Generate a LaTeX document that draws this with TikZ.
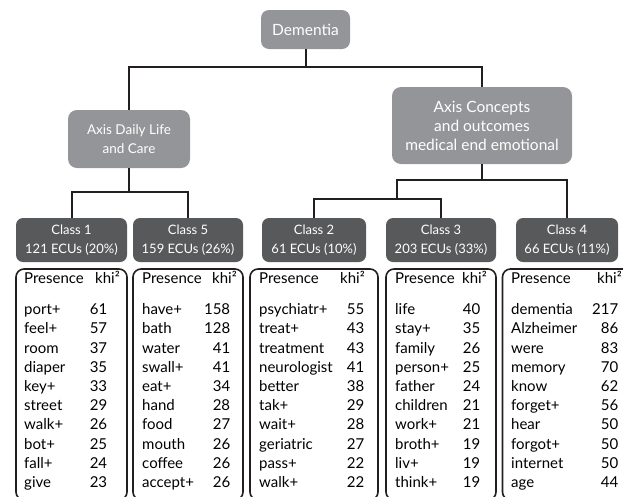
\documentclass[tikz,border=0pt]{standalone}
\usepackage{fontspec}
\setmainfont{Lato}
\usepackage{tikz}
\usepackage{xcolor}
\usetikzlibrary{positioning}
\definecolor{axisgray}{HTML}{939598}
\definecolor{classgray}{HTML}{58595B}
\definecolor{linkblack}{HTML}{231F20}
\newcommand{\kw}[2]{#1\hfill #2}

\begin{document}
\begin{tikzpicture}
[
x=1pt, y=-1pt,
box-root/.style={rectangle, rounded corners=8pt, fill=axisgray, text=white, inner sep=0pt, align=center, font=\fontsize{15.5}{19}\selectfont},
box-axis/.style={rectangle, rounded corners=9pt, fill=axisgray, text=white, inner sep=0pt, align=center, font=\fontsize{13.5}{19.5}\selectfont},
box-class/.style={rectangle, rounded corners=7pt, fill=classgray, text=white, inner sep=0pt, minimum height=44pt, align=center, font=\fontsize{13}{19}\selectfont},
box-table/.style={rectangle, rounded corners=8pt, draw=linkblack, line width=1.6pt, fill=white, minimum height=231pt},
text-head/.style={inner sep=0pt, font=\fontsize{15}{19.2}\selectfont},
text-rows/.style={inner sep=0pt, anchor=north west, align=left, font=\fontsize{15}{19.2}\selectfont},
link/.style={draw=linkblack, line width=2pt}
]
\useasboundingbox (0,0) rectangle (623,496);
\clip (0,0) rectangle (623,496);

% tree
\node (dementia)  [box-root,  minimum width=89pt,  minimum height=39pt] at (305.5,29.5) {Dementia};
\node (axis-care) [box-axis,  minimum width=122pt, minimum height=58pt] at (129,139)    {Axis Daily Life\\and Care};
\node (axis-med)  [box-axis,  minimum width=180pt, minimum height=77pt, font=\fontsize{15.5}{19}\selectfont] at (482,125.5) {Axis Concepts\\and outcomes\\medical end emotional};
\node (class-1)   [box-class, minimum width=111pt] at (71.5,240) {Class 1\\121 ECUs (20\%)};
\node (class-5)   [box-class, minimum width=110pt] at (188,240)  {Class 5\\159 ECUs (26\%)};
\node (class-2)   [box-class, minimum width=104pt] at (314,240)  {Class 2\\61 ECUs (10\%)};
\node (class-3)   [box-class, minimum width=110pt] at (441,240)  {Class 3\\203 ECUs (33\%)};
\node (class-4)   [box-class, minimum width=102pt] at (567,240)  {Class 4\\66 ECUs (11\%)};
\coordinate (split-23) at (397,199);

\draw[link] (dementia.south)  -- ++(0,18) -| (axis-care.north);
\draw[link] (dementia.south)  -- ++(0,18) -| (axis-med.north);
\draw[link] (axis-care.south) -- ++(0,24) -| (class-1.north);
\draw[link] (axis-care.south) -- ++(0,24) -| (class-5.north);
\draw[link] (axis-med.south)  -- ++(0,16) -| (class-4.north);
\draw[link] (axis-med.south)  -- ++(0,16) -| (split-23);
\draw[link] (split-23) -| (class-2.north);
\draw[link] (split-23) -| (class-3.north);

% tables
\node (tab-1) [box-table, minimum width=111pt, below=6pt of class-1] {};
\node (tab-5) [box-table, minimum width=110pt, below=6pt of class-5] {};
\node (tab-2) [box-table, minimum width=128pt, below=6pt of class-2] {};
\node (tab-3) [box-table, minimum width=110pt, below=6pt of class-3] {};
\node (tab-4) [box-table, minimum width=129pt, below=6pt of class-4] {};

\node (pres-1) [text-head, anchor=base west] at (24,283)  {Presence};
\node (khi-1)  [text-head, anchor=base east] at (120,283) {khi²};
\node (rows-1) [text-rows, text width=83pt] at (24,301) {\strut\kw{port+}{61}\\\kw{feel+}{57}\\\kw{room}{37}\\\kw{diaper}{35}\\\kw{key+}{33}\\\kw{street}{29}\\\kw{walk+}{26}\\\kw{bot+}{25}\\\kw{fall+}{24}\\\kw{give}{23}};

\node (pres-5) [text-head, anchor=base west] at (142,283) {Presence};
\node (khi-5)  [text-head, anchor=base east] at (237,283) {khi²};
\node (rows-5) [text-rows, text width=88pt] at (142,301) {\strut\kw{have+}{158}\\\kw{bath}{128}\\\kw{water}{41}\\\kw{swall+}{41}\\\kw{eat+}{34}\\\kw{hand}{28}\\\kw{food}{27}\\\kw{mouth}{26}\\\kw{coffee}{26}\\\kw{accept+}{26}};

\node (pres-2) [text-head, anchor=base west] at (259,283) {Presence};
\node (khi-2)  [text-head, anchor=base east] at (365,283) {khi²};
\node (rows-2) [text-rows, text width=105pt] at (259,301) {\strut\kw{psychiatr+}{55}\\\kw{treat+}{43}\\\kw{treatment}{43}\\\kw{neurologist}{41}\\\kw{better}{38}\\\kw{tak+}{29}\\\kw{wait+}{28}\\\kw{geriatric}{27}\\\kw{pass+}{22}\\\kw{walk+}{22}};

\node (pres-3) [text-head, anchor=base west] at (395,283) {Presence};
\node (khi-3)  [text-head, anchor=base east] at (487,283) {khi²};
\node (rows-3) [text-rows, text width=85pt] at (395,301) {\strut\kw{life}{40}\\\kw{stay+}{35}\\\kw{family}{26}\\\kw{person+}{25}\\\kw{father}{24}\\\kw{children}{21}\\\kw{work+}{21}\\\kw{broth+}{19}\\\kw{liv+}{19}\\\kw{think+}{19}};

\node (pres-4) [text-head, anchor=base west] at (511,283) {Presence};
\node (khi-4)  [text-head, anchor=base east] at (622,283) {khi²};
\node (rows-4) [text-rows, text width=107pt] at (511,301) {\strut\kw{dementia}{217}\\\kw{Alzheimer}{86}\\\kw{were}{83}\\\kw{memory}{70}\\\kw{know}{62}\\\kw{forget+}{56}\\\kw{hear}{50}\\\kw{forgot+}{50}\\\kw{internet}{50}\\\kw{age}{44}};
\end{tikzpicture}
\end{document}
